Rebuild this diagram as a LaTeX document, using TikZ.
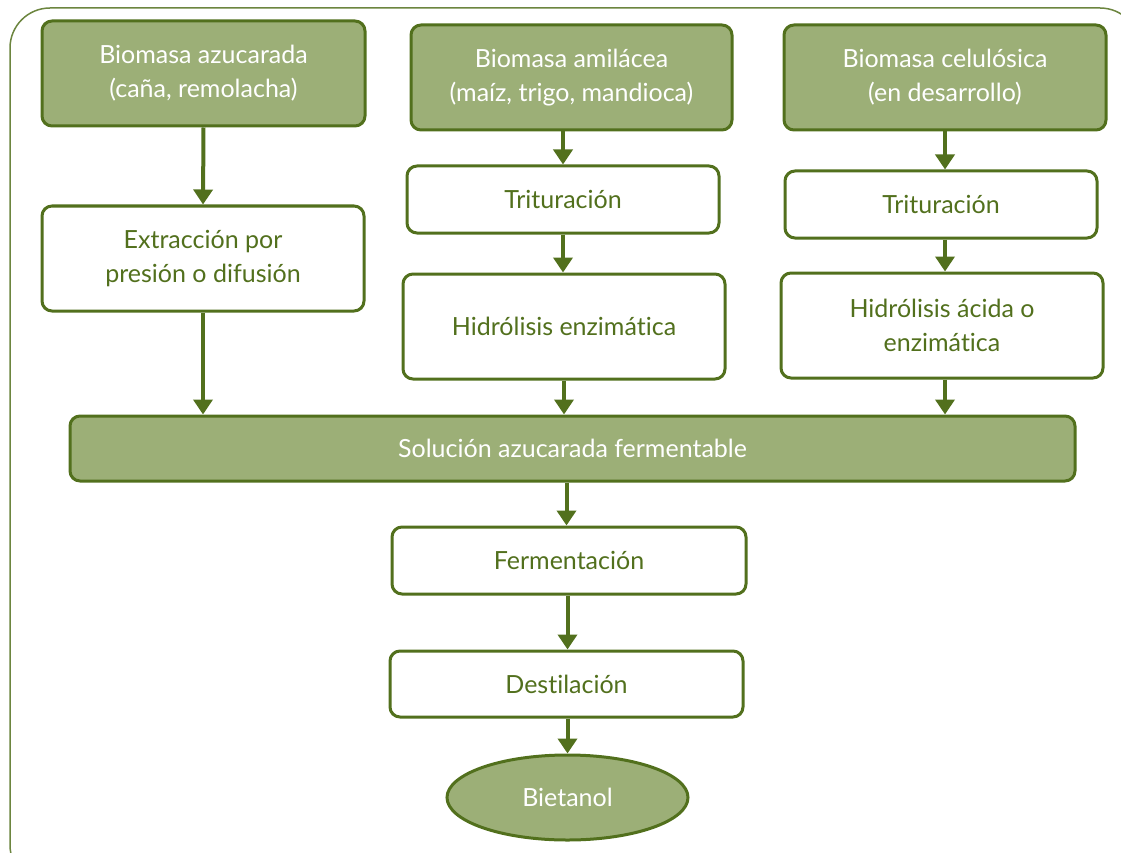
\documentclass[tikz,border=0pt]{standalone}
\usepackage{fontspec}
\setmainfont{Lato}[Ligatures=NoCommon]
\usetikzlibrary{arrows.meta,shapes.geometric}
\definecolor{leaf}{HTML}{9CAF77}
\definecolor{stem}{HTML}{52701D}
\begin{document}
\begin{tikzpicture}[x=1pt,y=-1pt,
  dark/.style={draw=stem, line width=3pt, fill=leaf, rounded corners=10pt, text=white, align=center, inner sep=0pt, font=\fontsize{25}{34}\selectfont},
  light/.style={dark, fill=white, text=stem},
  flow/.style={draw=stem, line width=4pt, -{Triangle[width=19pt,length=15pt]}}]
\useasboundingbox (0,0) rectangle (1121,853);
\draw[stem!85, line width=1.5pt, rounded corners=40pt] (10,8) rectangle (1140,885);
\node[dark, minimum width=323pt, minimum height=105pt] (azucarada) at (203.5,73.5) {Biomasa azucarada\\(caña, remolacha)};
\node[dark, minimum width=321pt, minimum height=105pt] (amilacea) at (571.5,77.5) {Biomasa amilácea\\(maíz, trigo, mandioca)};
\node[dark, minimum width=322pt, minimum height=105pt] (celulosica) at (945,77.5) {Biomasa celulósica\\(en desarrollo)};
\node[light, minimum width=322pt, minimum height=105pt] (extraccion) at (203,258.5) {Extracción por\\presión o difusión};
\node[light, minimum width=312pt, minimum height=67pt] (trit2) at (563,199.5) {Trituración};
\node[light, minimum width=322pt, minimum height=105pt] (hidro2) at (564,326.5) {Hidrólisis enzimática};
\node[light, minimum width=312pt, minimum height=67pt] (trit3) at (941,204.5) {Trituración};
\node[light, minimum width=322pt, minimum height=105pt] (hidro3) at (942,325.5) {Hidrólisis ácida o\\enzimática};
\node[dark, minimum width=1005pt, minimum height=65pt] (solucion) at (572.5,448.5) {Solución azucarada fermentable};
\node[light, minimum width=354pt, minimum height=67pt] (ferment) at (569,560.5) {Fermentación};
\node[light, minimum width=353pt, minimum height=66pt] (destila) at (566.5,684) {Destilación};
\node[dark, ellipse, rounded corners=0pt, minimum width=241pt, minimum height=85pt] (bietanol) at (567.5,797.5) {Bietanol};
\draw[flow] (azucarada.south) -- (extraccion.north);
\draw[flow] (extraccion.south) -- (extraccion.south |- solucion.north);
\draw[flow] (amilacea.south -| trit2.north) -- (trit2.north);
\draw[flow] (trit2.south) -- (hidro2.north -| trit2.south);
\draw[flow] (hidro2.south) -- (hidro2.south |- solucion.north);
\draw[flow] (celulosica.south) -- (trit3.north -| celulosica.south);
\draw[flow] (trit3.south -| celulosica.south) -- (hidro3.north -| celulosica.south);
\draw[flow] (hidro3.south -| celulosica.south) -- (solucion.north -| celulosica.south);
\draw[flow] (solucion.south -| destila.north) -- (ferment.north -| destila.north);
\draw[flow] (ferment.south -| bietanol.north) -- (destila.north -| bietanol.north);
\draw[flow] (destila.south -| bietanol.north) -- (bietanol.north);
\end{tikzpicture}
\end{document}
